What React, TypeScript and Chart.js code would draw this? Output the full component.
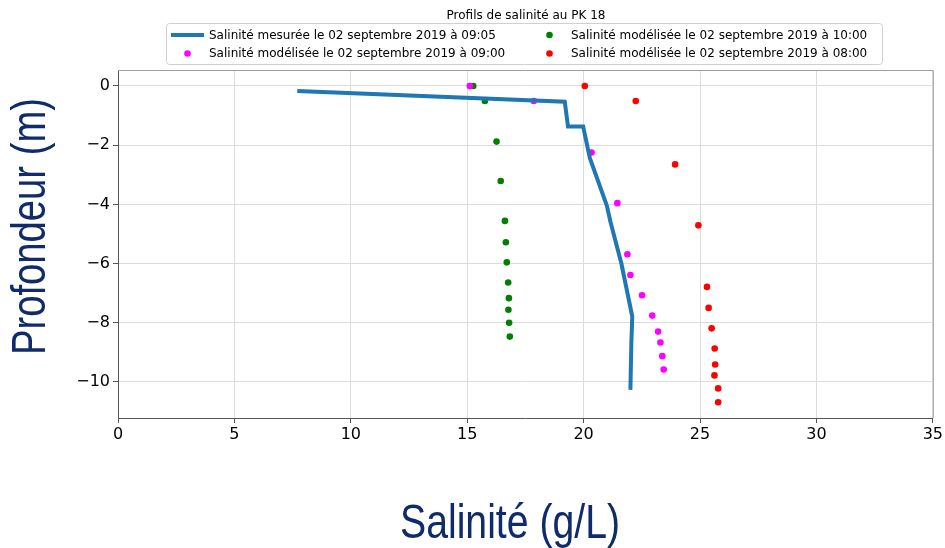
import React, { useEffect, useRef } from "react";
import { Chart, registerables } from "chart.js";

Chart.register(...registerables);

const chartTitle = "Profils de salinité au PK 18";
const xTitle = "Salinité (g/L)";
const yTitle = "Profondeur (m)";

const labelMeasured = "Salinité mesurée le 02 septembre 2019 à 09:05";
const label0900 = "Salinité modélisée le 02 septembre 2019 à 09:00";
const label1000 = "Salinité modélisée le 02 septembre 2019 à 10:00";
const label0800 = "Salinité modélisée le 02 septembre 2019 à 08:00";

const salinityMeasured = [7.7, 19.19, 19.33, 19.98, 20.27, 21.0, 21.15, 21.62, 22.09, 22.05, 22.01];
const depthMeasured = [-0.17, -0.53, -1.37, -1.37, -2.44, -4.05, -4.58, -5.99, -7.79, -8.7, -10.27];

const salinity0900 = [15.11, 17.86, 20.34, 21.45, 21.88, 22.01, 22.51, 22.95, 23.2, 23.3, 23.38, 23.44];
const depth0900 = [0, -0.51, -2.25, -3.96, -5.69, -6.39, -7.07, -7.76, -8.3, -8.67, -9.13, -9.58];

const salinity1000 = [15.26, 15.76, 16.26, 16.44, 16.62, 16.66, 16.7, 16.76, 16.79, 16.77, 16.8, 16.83];
const depth1000 = [0, -0.51, -1.88, -3.21, -4.56, -5.28, -5.96, -6.64, -7.17, -7.56, -8.0, -8.47];

const salinity0800 = [20.05, 22.24, 23.93, 24.93, 25.3, 25.37, 25.5, 25.63, 25.65, 25.62, 25.78, 25.78];
const depth0800 = [0, -0.51, -2.65, -4.71, -6.79, -7.5, -8.19, -8.87, -9.41, -9.78, -10.22, -10.69];

const xMin = 0;
const xMax = 35;
const xStep = 5;
const yMin = -11.22;
const yMax = 0.54;
const yStep = 2;

const toPoints = (xs: number[], ys: number[]) => xs.map((x, i) => ({ x, y: ys[i] }));

const BLUE = "#1f77b4";
const MAGENTA = "#ff00ff";
const GREEN = "#008000";
const RED = "#ff0000";
const NAVY = "#0f2b6b";

function drawFitted(ctx: CanvasRenderingContext2D, text: string, targetWidth: number) {
  const w = ctx.measureText(text).width;
  const s = targetWidth / w;
  ctx.save();
  ctx.scale(s, 1);
  ctx.fillText(text, 0, 0);
  ctx.restore();
}

const overlayPlugin = {
  id: "overlay",
  afterDraw(chart: any) {
    const ctx = chart.ctx as CanvasRenderingContext2D;
    const area = chart.chartArea;
    ctx.save();
    // frame (top/right spines)
    ctx.strokeStyle = "#a0a0a0";
    ctx.lineWidth = 1;
    ctx.beginPath();
    ctx.moveTo(area.left, area.top + 0.5);
    ctx.lineTo(area.right + 0.5, area.top + 0.5);
    ctx.lineTo(area.right + 0.5, area.bottom);
    ctx.stroke();

    // title
    ctx.fillStyle = "#000";
    ctx.font = '12px "DejaVu Sans"';
    ctx.textAlign = "center";
    ctx.textBaseline = "middle";
    ctx.fillText(chartTitle, 526, 16);

    // legend box
    const bx = 166.5, by = 23.5, bw = 716, bh = 41, r = 3;
    ctx.beginPath();
    ctx.moveTo(bx + r, by);
    ctx.lineTo(bx + bw - r, by);
    ctx.arcTo(bx + bw, by, bx + bw, by + r, r);
    ctx.lineTo(bx + bw, by + bh - r);
    ctx.arcTo(bx + bw, by + bh, bx + bw - r, by + bh, r);
    ctx.lineTo(bx + r, by + bh);
    ctx.arcTo(bx, by + bh, bx, by + bh - r, r);
    ctx.lineTo(bx, by + r);
    ctx.arcTo(bx, by, bx + r, by, r);
    ctx.closePath();
    ctx.fillStyle = "rgba(255,255,255,0.9)";
    ctx.fill();
    ctx.strokeStyle = "#d0d0d0";
    ctx.stroke();

    const ds = chart.data.datasets;
    const items = [
      { d: ds[0], col: 0, row: 0 },
      { d: ds[1], col: 0, row: 1 },
      { d: ds[2], col: 1, row: 0 },
      { d: ds[3], col: 1, row: 1 },
    ];
    const colX = [171, 533];
    const rowY = [35, 53.5];
    ctx.font = '12px "DejaVu Sans"';
    ctx.textAlign = "left";
    ctx.textBaseline = "middle";
    for (const it of items) {
      const x0 = colX[it.col];
      const y = rowY[it.row];
      if (it.d.showLine) {
        ctx.strokeStyle = it.d.borderColor;
        ctx.lineWidth = 4;
        ctx.beginPath();
        ctx.moveTo(x0, y);
        ctx.lineTo(x0 + 33, y);
        ctx.stroke();
      } else {
        ctx.fillStyle = it.d.backgroundColor;
        ctx.beginPath();
        ctx.arc(x0 + 16.5, y, 3.3, 0, Math.PI * 2);
        ctx.fill();
      }
      ctx.fillStyle = "#000";
      ctx.fillText(it.d.label, x0 + 38, y + 0.5);
    }

    // axis titles
    ctx.fillStyle = NAVY;
    ctx.font = '49px "Liberation Sans", Arial, sans-serif';
    ctx.textAlign = "center";
    ctx.textBaseline = "alphabetic";
    ctx.save();
    ctx.translate(510, 538);
    drawFitted(ctx, xTitle, 220);
    ctx.restore();
    ctx.save();
    ctx.translate(45, 226.5);
    ctx.rotate(-Math.PI / 2);
    drawFitted(ctx, yTitle, 257);
    ctx.restore();

    ctx.restore();
  },
};

function ProfileChart() {
  const ref = useRef<HTMLCanvasElement | null>(null);
  useEffect(() => {
    if (!ref.current) return;
    const chart = new Chart(ref.current, {
      type: "scatter",
      data: {
        datasets: [
          {
            label: labelMeasured,
            data: toPoints(salinityMeasured, depthMeasured),
            showLine: true,
            borderColor: BLUE,
            backgroundColor: BLUE,
            borderWidth: 4,
            pointRadius: 0,
            tension: 0,
          },
          {
            label: label0900,
            data: toPoints(salinity0900, depth0900),
            backgroundColor: MAGENTA,
            borderColor: MAGENTA,
            borderWidth: 0,
            pointRadius: 3.3,
          },
          {
            label: label1000,
            data: toPoints(salinity1000, depth1000),
            backgroundColor: GREEN,
            borderColor: GREEN,
            borderWidth: 0,
            pointRadius: 3.3,
          },
          {
            label: label0800,
            data: toPoints(salinity0800, depth0800),
            backgroundColor: RED,
            borderColor: RED,
            borderWidth: 0,
            pointRadius: 3.3,
          },
        ],
      },
      options: {
        animation: false,
        responsive: false,
        devicePixelRatio: 1,
        layout: { padding: { top: 70, left: 0, right: 12, bottom: 0 } },
        plugins: {
          legend: { display: false },
          title: { display: false },
          tooltip: { enabled: false },
        },
        scales: {
          x: {
            type: "linear",
            min: xMin,
            max: xMax,
            ticks: {
              stepSize: xStep,
              color: "#000",
              font: { family: "DejaVu Sans", size: 16 },
              padding: 2,
            },
            grid: { color: "#dcdcdc", tickColor: "#555", tickLength: 5 },
            border: { color: "#555", width: 1 },
            afterFit: (scale: any) => {
              scale.height = 130;
            },
          },
          y: {
            type: "linear",
            min: yMin,
            max: yMax,
            ticks: {
              stepSize: yStep,
              includeBounds: false,
              color: "#000",
              font: { family: "DejaVu Sans", size: 16 },
              padding: 3,
              callback: (v: any) => (Number(v) < 0 ? "\u2212" + Math.abs(Number(v)) : String(v)),
            },
            grid: { color: "#dcdcdc", tickColor: "#555", tickLength: 5 },
            border: { color: "#555", width: 1 },
            afterFit: (scale: any) => {
              scale.width = 118;
            },
          },
        },
      },
      plugins: [overlayPlugin],
    });
    return () => chart.destroy();
  }, []);
  return <canvas ref={ref} width={945} height={548} style={{ display: "block" }} />;
}

export default function App() {
  return (
    <div style={{ position: "fixed", left: 0, top: 0, width: 945, height: 548, background: "#fff" }}>
      <ProfileChart />
    </div>
  );
}
